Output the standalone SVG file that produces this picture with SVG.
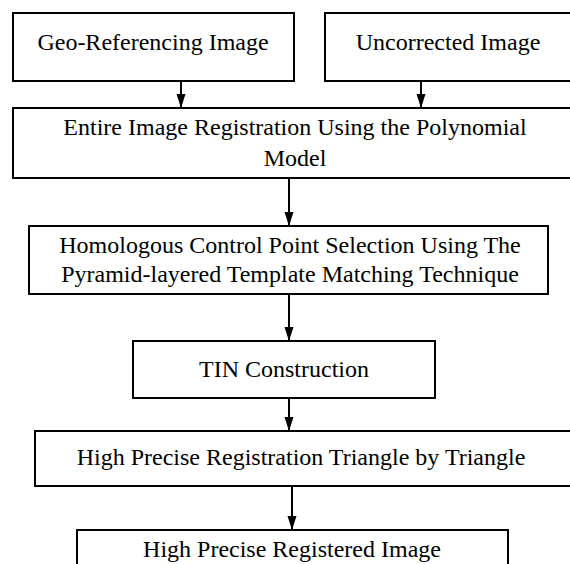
<svg xmlns="http://www.w3.org/2000/svg" width="570" height="564" viewBox="0 0 570 564">
<style>
.box{fill:#fff;stroke:#000;stroke-width:2}
.t{font-family:"Liberation Serif","Times New Roman",serif;font-size:24px;fill:#000;text-anchor:middle}
.c{stroke:#000;stroke-width:2;fill:none;marker-end:url(#ah)}
</style>
<defs>
<marker id="ah" markerWidth="14" markerHeight="10" refX="14" refY="5" orient="auto" markerUnits="userSpaceOnUse" viewBox="0 0 14 10">
<path d="M0,0.5 L14,5 L0,9.5 Z" fill="#000"/>
</marker>
</defs>
<rect width="570" height="564" fill="#fff"/>
<g id="connectors">
<path class="c" d="M181,81 V108"/>
<path class="c" d="M421,81 V108"/>
<path class="c" d="M289,178 V226"/>
<path class="c" d="M289,294 V341"/>
<path class="c" d="M289,398 V431"/>
<path class="c" d="M292,486 V530"/>
</g>
<g id="geo"><rect class="box" x="13" y="13" width="281" height="68"/><text class="t" x="153" y="50">Geo-Referencing Image</text></g>
<g id="uncorrected"><rect class="box" x="325" y="13" width="246" height="68"/><text class="t" x="448" y="50">Uncorrected Image</text></g>
<g id="entire"><rect class="box" x="13" y="108" width="558" height="70"/><text class="t" x="295" y="135">Entire Image Registration Using the Polynomial</text><text class="t" x="295" y="166">Model</text></g>
<g id="homologous"><rect class="box" x="29" y="226" width="519" height="68"/><text class="t" x="290" y="253">Homologous Control Point Selection Using The</text><text class="t" x="290" y="282">Pyramid-layered Template Matching Technique</text></g>
<g id="tin"><rect class="box" x="133" y="341" width="302" height="57"/><text class="t" x="284" y="377">TIN Construction</text></g>
<g id="triangle"><rect class="box" x="35" y="431" width="536" height="55"/><text class="t" x="301" y="465">High Precise Registration Triangle by Triangle</text></g>
<g id="registered"><rect class="box" x="77" y="530" width="431" height="40"/><text class="t" x="292" y="557">High Precise Registered Image</text></g>
</svg>
